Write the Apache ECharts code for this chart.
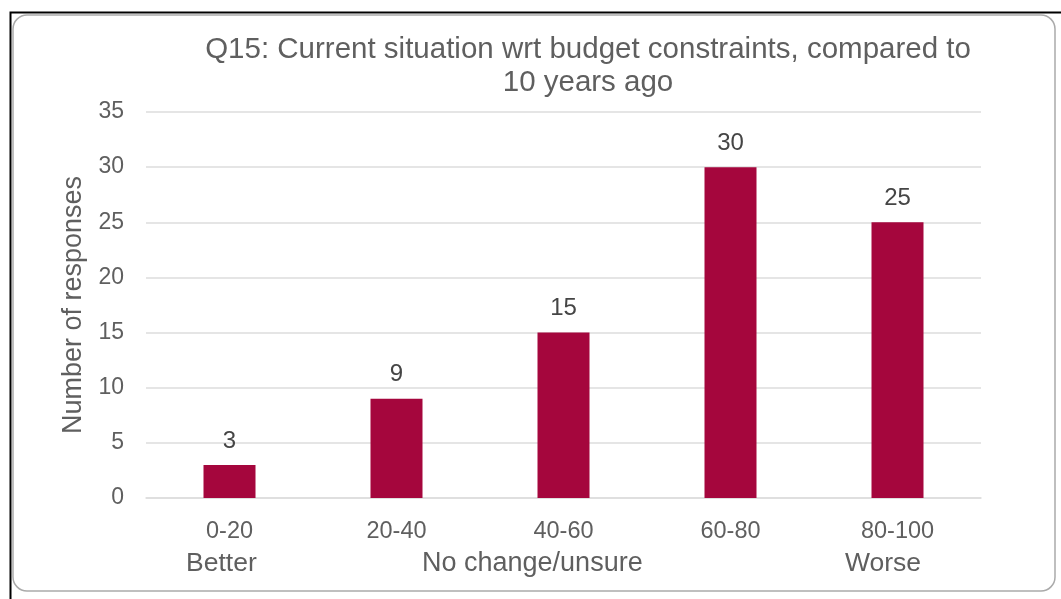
<!DOCTYPE html>
<html><head><meta charset="utf-8">
<script src="https://cdn.jsdelivr.net/npm/echarts@6/dist/echarts.min.js"></script>
<style>html,body{margin:0;padding:0;background:#fff}#c{width:1061px;height:599px}</style>
</head><body><div id="c"></div>
<script>
const categories = ['0-20','20-40','40-60','60-80','80-100'];
const responses = [3, 9, 15, 30, 25];
const groupLabels = ['Better','No change/unsure','Worse'];
const chart = echarts.init(document.getElementById('c'));
const font = 'Liberation Sans, Arial, sans-serif';
chart.setOption({
  animation:false,
  title:{text:'Q15: Current situation wrt budget constraints, compared to\n10 years ago',left:583,textAlign:'center',top:28,
    textStyle:{fontFamily:font,fontSize:29.5,fontWeight:'normal',color:'#5f5f5f',lineHeight:33}},
  grid:{left:146,right:80,top:112,bottom:101},
  xAxis:{type:'category',data:categories,axisTick:{show:false},
    axisLine:{lineStyle:{color:'#dddddd',width:1.5}},
    axisLabel:{fontFamily:font,fontSize:23.5,color:'#5f5f5f',margin:22}},
  yAxis:{type:'value',min:0,max:35,interval:5,
    name:'Number of responses',nameLocation:'middle',nameGap:58,
    nameTextStyle:{fontFamily:font,fontSize:27,color:'#5f5f5f'},
    axisLabel:{fontFamily:font,fontSize:23,color:'#5f5f5f',margin:22},
    splitLine:{lineStyle:{color:'#dddddd',width:1.5}}},
  series:[{type:'bar',data:responses,barWidth:52,itemStyle:{color:'#a5063d'},
    label:{show:true,position:'top',distance:12,fontFamily:font,fontSize:24,color:'#454545'}}],
  graphic:[
    {type:'rect',shape:{x:10.5,y:12.5,width:1060,height:600},style:{fill:'none',stroke:'#000',lineWidth:2}},
    {type:'rect',shape:{x:13,y:15,width:1042,height:576,r:14},style:{fill:'none',stroke:'#aaaaaa',lineWidth:1.5}},
    {type:'text',left:186,top:550,style:{text:groupLabels[0],font:'26.5px '+font,fill:'#5f5f5f'}},
    {type:'text',left:422,top:550,style:{text:groupLabels[1],font:'27px '+font,fill:'#5f5f5f'}},
    {type:'text',left:845,top:550,style:{text:groupLabels[2],font:'26.5px '+font,fill:'#5f5f5f'}}
  ]
});
</script></body></html>
